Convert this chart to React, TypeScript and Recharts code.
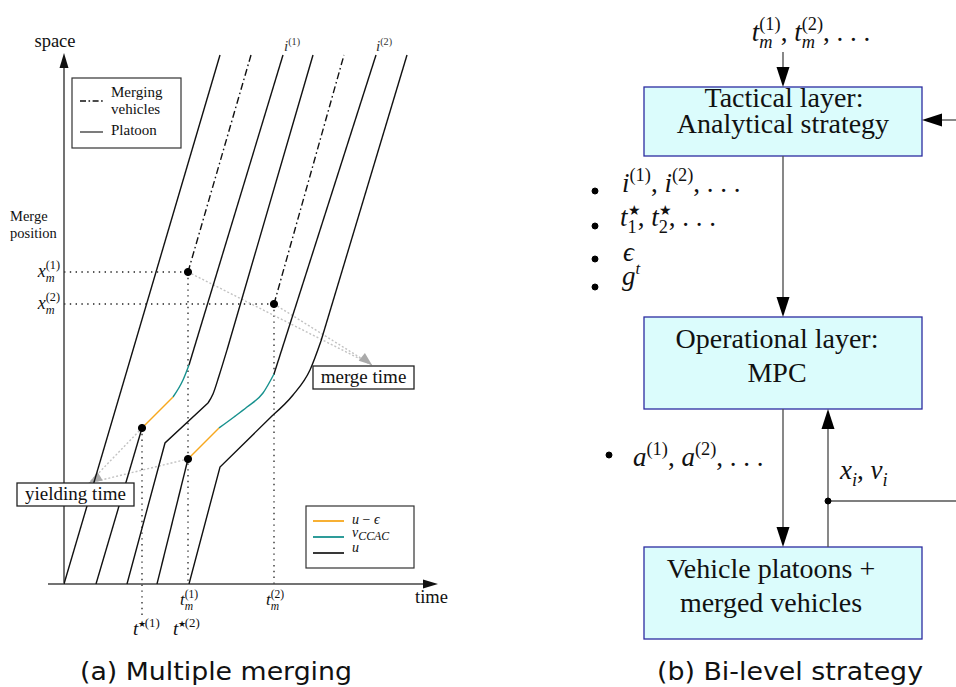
import React from 'react';
import {
  LineChart,
  ComposedChart,
  Line,
  XAxis,
  YAxis,
  ReferenceLine,
  ReferenceDot,
} from 'recharts';

type P = { t: number; s: number };
type Part = { s: string; it?: boolean; v?: 'sup' | 'sub'; stack?: boolean; scale?: number };

// ---------------- Panel (a) data: time t / space s (schematic units) ----------------
const TIME_MAX = 37.4;
const SPACE_MAX = 53;

const platoon1: P[] = [{ t: 0, s: 0 }, { t: 15.6, s: 52.9 }];
const platoon2Before: P[] = [{ t: 3.2, s: 0 }, { t: 7.8, s: 15.6 }];
const platoon2Yield: P[] = [{ t: 7.8, s: 15.6 }, { t: 10.9, s: 18.7 }];
const platoon2Ccac: P[] = [{ t: 10.9, s: 18.7 }, { t: 11.9, s: 20.4 }, { t: 12.5, s: 21.9 }];
const platoon2After: P[] = [{ t: 12.5, s: 21.9 }, { t: 21.9, s: 52.9 }];
const platoon3Straight: P[] = [{ t: 6.3, s: 0 }, { t: 10.1, s: 14.1 }, { t: 14.4, s: 18.1 }];
const platoon3Bend: P[] = [{ t: 14.4, s: 18.1 }, { t: 14.9, s: 19.0 }, { t: 15.5, s: 20.8 }, { t: 16.3, s: 23.4 }];
const platoon3After: P[] = [{ t: 16.3, s: 23.4 }, { t: 24.9, s: 52.9 }];
const platoon4Before: P[] = [{ t: 9.3, s: 0 }, { t: 12.4, s: 12.5 }];
const platoon4Yield: P[] = [{ t: 12.4, s: 12.5 }, { t: 15.5, s: 15.6 }];
const platoon4Ccac: P[] = [
  { t: 15.5, s: 15.6 },
  { t: 17.0, s: 16.7 },
  { t: 18.3, s: 17.7 },
  { t: 19.9, s: 19.1 },
  { t: 21.0, s: 21.0 },
];
const platoon4After: P[] = [{ t: 21.0, s: 21.0 }, { t: 31.2, s: 52.9 }];
const platoon5Straight: P[] = [{ t: 12.5, s: 0 }, { t: 15.6, s: 11.7 }, { t: 20.9, s: 16.9 }];
const platoon5Bend: P[] = [{ t: 20.9, s: 16.9 }, { t: 22.9, s: 18.9 }, { t: 24.6, s: 21.4 }, { t: 25.7, s: 24.3 }];
const platoon5After: P[] = [{ t: 25.7, s: 24.3 }, { t: 34.3, s: 52.9 }];
const merging1: P[] = [{ t: 12.4, s: 31.2 }, { t: 18.7, s: 52.9 }];
const merging2: P[] = [{ t: 21.0, s: 28.0 }, { t: 28.0, s: 52.9 }];

const mergePoints: P[] = [{ t: 12.4, s: 31.2 }, { t: 21.0, s: 28.0 }];
const yieldPoints: P[] = [{ t: 7.8, s: 15.6 }, { t: 12.4, s: 12.5 }];
const mergeArrowTip: P = { t: 30.8, s: 21.9 };
const yieldArrowTip: P = { t: 2.5, s: 10.1 };
const mergeIndexLabels = ['(1)', '(2)'];
const vehicleLabelT = [22.0, 31.2];
const legendAItems = ['Merging', 'vehicles', 'Platoon'];
const boxLabels = ['merge time', 'yielding time'];
const captions = ['(a) Multiple merging', '(b) Bi-level strategy'];

// ---------------- Panel (b) texts ----------------
const tacticalLines = ['Tactical layer:', 'Analytical strategy'];
const operationalLines = ['Operational layer:', 'MPC'];
const plantLines = ['Vehicle platoons +', 'merged vehicles'];

const SERIF = '"Liberation Serif", "Times New Roman", serif';
const SANS = '"DejaVu Sans", Verdana, sans-serif';
const BLACK = '#111';
const ORANGE = '#f7a81e';
const TEAL = '#17918e';

const CW: Record<string, number> = {
  i: 0.278, t: 0.278, l: 0.278, j: 0.278, '(': 0.333, ')': 0.333, ',': 0.25, '.': 0.25, ' ': 0.25,
  m: 0.722, x: 0.444, v: 0.444, a: 0.5, g: 0.5, u: 0.5, 'ϵ': 0.44, '−': 0.564, '★': 0.75,
  C: 0.667, A: 0.611, '1': 0.5, '2': 0.5,
};
const textWidth = (s: string, fs: number) => {
  let w = 0;
  for (const ch of s) w += (CW[ch] ?? 0.5) * fs;
  return w;
};

function MathText({
  x, y, parts, size, anchor = 'start', fill = BLACK,
}: { x: number; y: number; parts: Part[]; size: number; anchor?: 'start' | 'middle' | 'end'; fill?: string }) {
  let cur = 0;
  let prevStart = 0;
  let prevW = 0;
  const items = parts.map((p) => {
    const fs = size * (p.scale ?? (p.v ? 0.68 : 1));
    const w = textWidth(p.s, fs);
    let start: number;
    if (p.stack) {
      start = prevStart;
      const adv = Math.max(prevW, w);
      cur = prevStart + adv;
      prevW = adv;
    } else {
      start = cur;
      cur += w;
      prevStart = start;
      prevW = w;
    }
    const dy = p.v === 'sup' ? -size * 0.42 : p.v === 'sub' ? size * 0.27 : 0;
    return { p, fs, start, dy };
  });
  const x0 = anchor === 'middle' ? x - cur / 2 : anchor === 'end' ? x - cur : x;
  return (
    <text fill={fill} fontFamily={SERIF}>
      {items.map((it, k) => (
        <tspan key={k} x={x0 + it.start} y={y + it.dy} fontSize={it.fs} fontStyle={it.p.it ? 'italic' : 'normal'}>
          {it.p.s}
        </tspan>
      ))}
    </text>
  );
}

const at = (render: (cx: number, cy: number) => React.ReactNode) => (props: any) => <g>{render(props.cx, props.cy)}</g>;

type ArrowOpts = { color: string; width?: number; dash?: string; head?: number; headW?: number; headColor?: string; headOnly?: boolean };
const arrow = (o: ArrowOpts) => (props: any) => {
  const { x1, y1, x2, y2 } = props;
  const dx = x2 - x1;
  const dy = y2 - y1;
  const len = Math.hypot(dx, dy) || 1;
  const ux = dx / len;
  const uy = dy / len;
  const L = o.head ?? 0;
  const W = (o.headW ?? 0) / 2;
  const bx = x2 - ux * L;
  const by = y2 - uy * L;
  const pts = `${x2},${y2} ${bx - uy * W},${by + ux * W} ${bx + uy * W},${by - ux * W}`;
  return (
    <g>
      {!o.headOnly && (
        <line x1={x1} y1={y1} x2={L ? bx + ux * 2 : x2} y2={L ? by + uy * 2 : y2} stroke={o.color} strokeWidth={o.width ?? 1.2} strokeDasharray={o.dash} />
      )}
      {L > 0 && <polygon points={pts} fill={o.headColor ?? o.color} />}
    </g>
  );
};

const rectShape = (fill: string, stroke: string, sw: number) => (props: any) => {
  const { x1, y1, x2, y2 } = props;
  return (
    <rect x={Math.min(x1, x2)} y={Math.min(y1, y2)} width={Math.abs(x2 - x1)} height={Math.abs(y2 - y1)} fill={fill} stroke={stroke} strokeWidth={sw} />
  );
};

const segments: { d: P[]; c: string; curve?: 'linear' | 'monotone'; dash?: string }[] = [
  { d: platoon1, c: BLACK },
  { d: platoon2Before, c: BLACK },
  { d: platoon2Yield, c: ORANGE },
  { d: platoon2Ccac, c: TEAL, curve: 'monotone' },
  { d: platoon2After, c: BLACK },
  { d: platoon3Straight, c: BLACK },
  { d: platoon3Bend, c: BLACK, curve: 'monotone' },
  { d: platoon3After, c: BLACK },
  { d: platoon4Before, c: BLACK },
  { d: platoon4Yield, c: ORANGE },
  { d: platoon4Ccac, c: TEAL, curve: 'monotone' },
  { d: platoon4After, c: BLACK },
  { d: platoon5Straight, c: BLACK },
  { d: platoon5Bend, c: BLACK, curve: 'monotone' },
  { d: platoon5After, c: BLACK },
  { d: merging1, c: BLACK, dash: '7 3 1.6 3' },
  { d: merging2, c: BLACK, dash: '7 3 1.6 3' },
];

const seg = (a: P, b: P) => [{ x: a.t, y: a.s }, { x: b.t, y: b.s }];
const GUIDE = arrow({ color: '#222', width: 1.3, dash: '1.4 4.4' });
const GRAY = arrow({ color: '#c2c2c2', width: 1.4, dash: '2 2' });

function PanelA() {
  return (
    <LineChart width={460} height={687} margin={{ top: 54, right: 22, bottom: 103, left: 64 }}>
      <XAxis type="number" dataKey="t" domain={[0, TIME_MAX]} hide allowDataOverflow />
      <YAxis type="number" dataKey="s" domain={[0, SPACE_MAX]} hide allowDataOverflow />

      {/* dotted guides */}
      {mergePoints.map((p, i) => (
        <ReferenceLine key={'mh' + i} segment={seg({ t: 0, s: p.s }, p)} ifOverflow="visible" shape={GUIDE} />
      ))}
      {mergePoints.map((p, i) => (
        <ReferenceLine key={'mv' + i} segment={seg(p, { t: p.t, s: 0 })} ifOverflow="visible" shape={GUIDE} />
      ))}
      <ReferenceLine segment={seg(yieldPoints[0], { t: yieldPoints[0].t, s: -3.1 })} ifOverflow="visible" shape={GUIDE} />

      {/* grey "time" arrows */}
      {mergePoints.map((p, i) => (
        <ReferenceLine key={'ga' + i} segment={seg(p, mergeArrowTip)} ifOverflow="visible" shape={GRAY} />
      ))}
      {yieldPoints.map((p, i) => (
        <ReferenceLine key={'gy' + i} segment={seg(p, yieldArrowTip)} ifOverflow="visible" shape={GRAY} />
      ))}
      <ReferenceLine
        segment={seg({ t: 26.5, s: 25.3 }, mergeArrowTip)}
        ifOverflow="visible"
        shape={arrow({ color: '#aaa', head: 13, headW: 10, headOnly: true })}
      />
      <ReferenceLine
        segment={seg({ t: 6.0, s: 12.2 }, yieldArrowTip)}
        ifOverflow="visible"
        shape={arrow({ color: '#aaa', head: 13, headW: 10, headOnly: true })}
      />

      {/* axes */}
      <ReferenceLine
        segment={[{ x: 0, y: 0 }, { x: 0, y: 53.1 }]}
        ifOverflow="visible"
        shape={arrow({ color: '#444', width: 1.5, head: 15, headW: 9, headColor: '#111' })}
      />
      <ReferenceLine
        segment={[{ x: -1.6, y: 0 }, { x: TIME_MAX, y: 0 }]}
        ifOverflow="visible"
        shape={arrow({ color: '#444', width: 1.5, head: 15, headW: 9, headColor: '#111' })}
      />

      {/* trajectories */}
      {segments.map((sg, i) => (
        <Line
          key={'l' + i}
          data={sg.d}
          dataKey="s"
          type={sg.curve ?? 'linear'}
          stroke={sg.c}
          strokeWidth={1.4}
          strokeDasharray={sg.dash}
          dot={false}
          activeDot={false}
          isAnimationActive={false}
        />
      ))}

      {[...mergePoints, ...yieldPoints].map((p, i) => (
        <ReferenceDot key={'d' + i} x={p.t} y={p.s} r={3.6} fill="#000" stroke="#000" ifOverflow="visible" />
      ))}

      {/* boxes */}
      <ReferenceLine segment={[{ x: 24.9, y: 21.8 }, { x: 35.0, y: 19.5 }]} ifOverflow="visible" shape={rectShape('#fff', '#222', 1.3)} />
      <ReferenceLine segment={[{ x: -4.7, y: 10.1 }, { x: 7.0, y: 7.8 }]} ifOverflow="visible" shape={rectShape('#fff', '#222', 1.3)} />
      <ReferenceLine segment={[{ x: 0.8, y: 50.6 }, { x: 11.7, y: 43.6 }]} ifOverflow="visible" shape={rectShape('#fff', '#333', 1.2)} />
      <ReferenceLine segment={[{ x: 24.2, y: 7.8 }, { x: 35.0, y: 1.6 }]} ifOverflow="visible" shape={rectShape('#fff', '#333', 1.2)} />

      <ReferenceDot x={29.95} y={20.1} r={1} ifOverflow="visible" shape={at((cx, cy) => (
        <text x={cx} y={cy} textAnchor="middle" fontFamily={SERIF} fontSize={19} fill={BLACK}>{boxLabels[0]}</text>
      ))} />
      <ReferenceDot x={1.15} y={8.4} r={1} ifOverflow="visible" shape={at((cx, cy) => (
        <text x={cx} y={cy} textAnchor="middle" fontFamily={SERIF} fontSize={19} fill={BLACK}>{boxLabels[1]}</text>
      ))} />

      {/* legend 1 */}
      <ReferenceLine segment={[{ x: 1.6, y: 48.3 }, { x: 3.9, y: 48.3 }]} ifOverflow="visible" shape={arrow({ color: BLACK, width: 1.3, dash: '6 2.5 1.6 2.5' })} />
      <ReferenceLine segment={[{ x: 1.6, y: 45.2 }, { x: 3.9, y: 45.2 }]} ifOverflow="visible" shape={arrow({ color: BLACK, width: 1.1 })} />
      {[48.7, 47.0, 44.9].map((sv, i) => (
        <ReferenceDot key={'lg' + i} x={4.7} y={sv} r={1} ifOverflow="visible" shape={at((cx, cy) => (
          <text x={cx} y={cy} fontFamily={SERIF} fontSize={15} fill={BLACK}>{legendAItems[i]}</text>
        ))} />
      ))}

      {/* legend 2 */}
      {[ORANGE, TEAL, '#222'].map((c, i) => (
        <ReferenceLine key={'l2' + i} segment={[{ x: 24.9, y: 6.3 - i * 1.6 }, { x: 28.0, y: 6.3 - i * 1.6 }]} ifOverflow="visible" shape={arrow({ color: c, width: 1.8 })} />
      ))}
      <ReferenceDot x={28.8} y={6.0} r={1} ifOverflow="visible" shape={at((cx, cy) => (
        <MathText x={cx} y={cy} size={14} parts={[{ s: 'u', it: true }, { s: ' − ' }, { s: 'ϵ', it: true }]} />
      ))} />
      <ReferenceDot x={28.8} y={4.75} r={1} ifOverflow="visible" shape={at((cx, cy) => (
        <MathText x={cx} y={cy} size={14} parts={[{ s: 'v', it: true }, { s: 'CCAC', it: true, v: 'sub', scale: 0.85 }]} />
      ))} />
      <ReferenceDot x={28.8} y={3.2} r={1} ifOverflow="visible" shape={at((cx, cy) => (
        <MathText x={cx} y={cy} size={14} parts={[{ s: 'u', it: true }]} />
      ))} />

      {/* axis texts */}
      <ReferenceDot x={-0.9} y={53.7} r={1} ifOverflow="visible" shape={at((cx, cy) => (
        <text x={cx} y={cy} textAnchor="middle" fontFamily={SERIF} fontSize={18.5} fill={BLACK}>space</text>
      ))} />
      <ReferenceDot x={35.1} y={-1.9} r={1} ifOverflow="visible" shape={at((cx, cy) => (
        <text x={cx} y={cy} fontFamily={SERIF} fontSize={18.5} fill={BLACK}>time</text>
      ))} />
      <ReferenceDot x={-5.4} y={36.3} r={1} ifOverflow="visible" shape={at((cx, cy) => (
        <text x={cx} y={cy} fontFamily={SERIF} fontSize={14.5} fill={BLACK}>Merge</text>
      ))} />
      <ReferenceDot x={-5.4} y={34.6} r={1} ifOverflow="visible" shape={at((cx, cy) => (
        <text x={cx} y={cy} fontFamily={SERIF} fontSize={14.5} fill={BLACK}>position</text>
      ))} />
      {mergePoints.map((p, i) => (
        <ReferenceDot key={'xm' + i} x={-0.4} y={p.s - 0.5} r={1} ifOverflow="visible" shape={at((cx, cy) => (
          <MathText x={cx} y={cy} size={18} anchor="end" parts={[{ s: 'x', it: true }, { s: mergeIndexLabels[i], v: 'sup' }, { s: 'm', it: true, v: 'sub', stack: true }]} />
        ))} />
      ))}
      {mergePoints.map((p, i) => (
        <ReferenceDot key={'tm' + i} x={p.t - 0.8} y={-2.1} r={1} ifOverflow="visible" shape={at((cx, cy) => (
          <MathText x={cx} y={cy} size={17} parts={[{ s: 't', it: true }, { s: mergeIndexLabels[i], v: 'sup' }, { s: 'm', it: true, v: 'sub', stack: true }]} />
        ))} />
      ))}
      {yieldPoints.map((p, i) => (
        <ReferenceDot key={'ts' + i} x={p.t - 0.9 - i * 0.6} y={-5.1} r={1} ifOverflow="visible" shape={at((cx, cy) => (
          <MathText x={cx} y={cy} size={19} parts={[{ s: 't', it: true }, { s: '★', v: 'sup', scale: 0.45 }, { s: mergeIndexLabels[i], v: 'sup' }]} />
        ))} />
      ))}
      {vehicleLabelT.map((tv, i) => (
        <ReferenceDot key={'iv' + i} x={tv} y={53.3} r={1} ifOverflow="visible" shape={at((cx, cy) => (
          <MathText x={cx} y={cy} size={15} fill="#333" parts={[{ s: 'i', it: true }, { s: mergeIndexLabels[i], v: 'sup' }]} />
        ))} />
      ))}

      {/* caption */}
      <ReferenceDot x={15.2} y={-9.6} r={1} ifOverflow="visible" shape={at((cx, cy) => (
        <text x={cx} y={cy} textAnchor="middle" fontFamily={SANS} fontSize={24} textLength={272} lengthAdjust="spacingAndGlyphs" fill="#111">{captions[0]}</text>
      ))} />
    </LineChart>
  );
}

const HEAD = { head: 20, headW: 13, headColor: '#000' };
const WIRE = '#555';
const BOX_FILL = '#dbfcfc';
const BOX_STROKE = '#2c2ca0';

function PanelB() {
  const label = (x: number, y: number, node: (cx: number, cy: number) => React.ReactNode, key?: string) => (
    <ReferenceDot key={key} x={x} y={y} r={1} ifOverflow="visible" shape={at(node)} />
  );
  const serifText = (txt: string, size: number) => (cx: number, cy: number) => (
    <text x={cx} y={cy} textAnchor="middle" fontFamily={SERIF} fontSize={size} fill={BLACK}>{txt}</text>
  );
  const boxes = [
    { y1: 87, y2: 156 },
    { y1: 317, y2: 409 },
    { y1: 547, y2: 639 },
  ];
  return (
    <ComposedChart width={396} height={687} margin={{ top: 0, right: 0, bottom: 0, left: 0 }}>
      <XAxis type="number" dataKey="x" domain={[0, 396]} hide allowDataOverflow />
      <YAxis type="number" domain={[0, 687]} reversed hide allowDataOverflow />

      {boxes.map((b, i) => (
        <ReferenceLine key={'bx' + i} segment={[{ x: 84, y: b.y1 }, { x: 362, y: b.y2 }]} ifOverflow="visible" shape={rectShape(BOX_FILL, BOX_STROKE, 1.3)} />
      ))}

      <ReferenceLine segment={[{ x: 223, y: 52 }, { x: 223, y: 87 }]} ifOverflow="visible" shape={arrow({ color: WIRE, width: 1.4, ...HEAD })} />
      <ReferenceLine segment={[{ x: 223, y: 156 }, { x: 223, y: 317 }]} ifOverflow="visible" shape={arrow({ color: WIRE, width: 1.4, ...HEAD })} />
      <ReferenceLine segment={[{ x: 396, y: 120 }, { x: 362, y: 120 }]} ifOverflow="visible" shape={arrow({ color: WIRE, width: 1.4, ...HEAD })} />
      <ReferenceLine segment={[{ x: 223, y: 409 }, { x: 223, y: 547 }]} ifOverflow="visible" shape={arrow({ color: WIRE, width: 1.4, ...HEAD })} />
      <ReferenceLine segment={[{ x: 268, y: 547 }, { x: 268, y: 409 }]} ifOverflow="visible" shape={arrow({ color: WIRE, width: 1.4, ...HEAD })} />
      <ReferenceLine segment={[{ x: 268, y: 501 }, { x: 396, y: 501 }]} ifOverflow="visible" shape={arrow({ color: WIRE, width: 1.4 })} />
      <ReferenceDot x={268} y={501} r={3} fill="#000" stroke="#000" ifOverflow="visible" />

      {label(224, 107, serifText(tacticalLines[0], 28), 't0')}
      {label(223, 133, serifText(tacticalLines[1], 28), 't1')}
      {label(217, 348, serifText(operationalLines[0], 28), 'o0')}
      {label(217, 382, serifText(operationalLines[1], 28), 'o1')}
      {label(211, 578, serifText(plantLines[0], 28), 'p0')}
      {label(211, 612, serifText(plantLines[1], 28), 'p1')}

      {label(251, 41, (cx, cy) => (
        <MathText x={cx} y={cy} size={27} anchor="middle" parts={[
          { s: 't', it: true }, { s: '(1)', v: 'sup' }, { s: 'm', it: true, v: 'sub', stack: true },
          { s: ', ' },
          { s: 't', it: true }, { s: '(2)', v: 'sup' }, { s: 'm', it: true, v: 'sub', stack: true },
          { s: ', . . .' },
        ]} />
      ), 'top')}

      {[191, 226, 259, 287].map((yy, i) => (
        <ReferenceDot key={'bl' + i} x={35} y={yy} r={3} fill="#000" stroke="#000" ifOverflow="visible" />
      ))}
      <ReferenceDot x={49} y={455} r={3} fill="#000" stroke="#000" ifOverflow="visible" />

      {label(62, 192, (cx, cy) => (
        <MathText x={cx} y={cy} size={27} parts={[
          { s: 'i', it: true }, { s: '(1)', v: 'sup' }, { s: ', ' }, { s: 'i', it: true }, { s: '(2)', v: 'sup' }, { s: ', . . .' },
        ]} />
      ), 'b1')}
      {label(60, 226, (cx, cy) => (
        <MathText x={cx} y={cy} size={27} parts={[
          { s: 't', it: true }, { s: '★', v: 'sup', scale: 0.5 }, { s: '1', v: 'sub', stack: true }, { s: ', ' },
          { s: 't', it: true }, { s: '★', v: 'sup', scale: 0.5 }, { s: '2', v: 'sub', stack: true }, { s: ', . . .' },
        ]} />
      ), 'b2')}
      {label(63, 261, (cx, cy) => <MathText x={cx} y={cy} size={27} parts={[{ s: 'ϵ', it: true }]} />, 'b3')}
      {label(62, 285, (cx, cy) => (
        <MathText x={cx} y={cy} size={27} parts={[{ s: 'g', it: true }, { s: 't', it: true, v: 'sup', scale: 0.62 }]} />
      ), 'b4')}
      {label(73, 466, (cx, cy) => (
        <MathText x={cx} y={cy} size={27} parts={[
          { s: 'a', it: true }, { s: '(1)', v: 'sup' }, { s: ', ' }, { s: 'a', it: true }, { s: '(2)', v: 'sup' }, { s: ', . . .' },
        ]} />
      ), 'ba')}
      {label(280, 479, (cx, cy) => (
        <MathText x={cx} y={cy} size={27} parts={[
          { s: 'x', it: true }, { s: 'i', it: true, v: 'sub' }, { s: ', ' }, { s: 'v', it: true }, { s: 'i', it: true, v: 'sub' },
        ]} />
      ), 'xv')}

      {label(230, 680, (cx, cy) => (
        <text x={cx} y={cy} textAnchor="middle" fontFamily={SANS} fontSize={24} textLength={266} lengthAdjust="spacingAndGlyphs" fill="#111">{captions[1]}</text>
      ), 'cap')}
    </ComposedChart>
  );
}

export default function App() {
  return (
    <div style={{ position: 'absolute', left: 0, top: 0, width: 956, height: 687, background: '#fff' }}>
      <div style={{ position: 'absolute', left: 0, top: 0 }}>
        <PanelA />
      </div>
      <div style={{ position: 'absolute', left: 560, top: 0 }}>
        <PanelB />
      </div>
    </div>
  );
}
